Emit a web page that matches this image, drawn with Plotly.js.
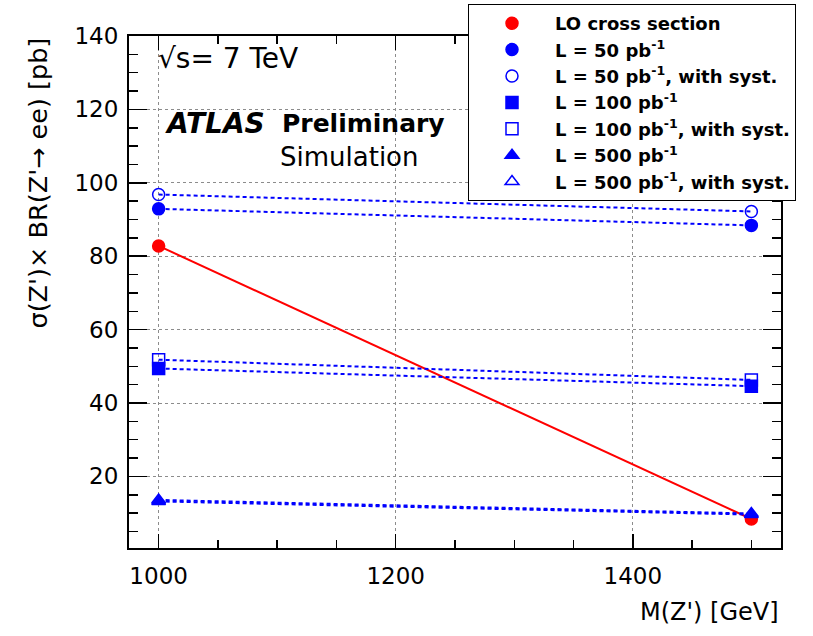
<!DOCTYPE html>
<html>
<head>
<meta charset="utf-8">
<script src="https://cdn.plot.ly/plotly-3.0.1.min.js"></script>
<style>
  html, body { margin: 0; padding: 0; background: #fff; }
  #chart { width: 813px; height: 636px; }
</style>
</head>
<body>
<div id="chart"></div>
<script>
// Z' mass points [GeV]
const massPoints = [1000, 1500];

// LO cross section times branching ratio [pb]
const loCrossSection = [82.8, 8.4];

// Required sigma x BR for each integrated luminosity [pb]
const lumi50 = [92.9, 88.4];
const lumi50Syst = [96.8, 92.2];
const lumi100 = [49.4, 44.6];
const lumi100Syst = [51.8, 46.3];
const lumi500 = [13.2, 9.6];
const lumi500Syst = [13.6, 9.9];

const seriesNames = [
  'LO cross section',
  'L = 50 pb<sup>-1</sup>',
  'L = 50 pb<sup>-1</sup>, with syst.',
  'L = 100 pb<sup>-1</sup>',
  'L = 100 pb<sup>-1</sup>, with syst.',
  'L = 500 pb<sup>-1</sup>',
  'L = 500 pb<sup>-1</sup>, with syst.'
];

const RED = '#ff0000';
const BLUE = '#0000ff';
const FONT = 'DejaVu Sans, Verdana, sans-serif';

const series = [
  { y: loCrossSection, color: RED,  symbol: 'circle',           dash: 'solid' },
  { y: lumi50,         color: BLUE, symbol: 'circle',           dash: '4px,3px' },
  { y: lumi50Syst,     color: BLUE, symbol: 'circle-open',      dash: '4px,3px' },
  { y: lumi100,        color: BLUE, symbol: 'square',           dash: '4px,3px' },
  { y: lumi100Syst,    color: BLUE, symbol: 'square-open',      dash: '4px,3px' },
  { y: lumi500,        color: BLUE, symbol: 'triangle-up',      dash: '4px,3px' },
  { y: lumi500Syst,    color: BLUE, symbol: 'triangle-up-open', dash: '4px,3px' }
];

const traces = [];
// connecting lines first, so the markers sit on top
series.forEach((s) => {
  traces.push({
    x: massPoints, y: s.y, mode: 'lines', showlegend: false, hoverinfo: 'skip',
    line: { color: s.color, width: 2, dash: s.dash }
  });
});
series.forEach((s, i) => {
  traces.push({
    x: massPoints, y: s.y, mode: 'markers', name: seriesNames[i],
    marker: { color: s.color, symbol: s.symbol, size: 12, line: { color: s.color, width: 1.5 } }
  });
});

const axisCommon = {
  showline: true, linecolor: '#000', linewidth: 2, mirror: 'ticks',
  ticks: 'inside', tickwidth: 1.5, tickcolor: '#000',
  showgrid: true, gridcolor: '#8c8c8c', gridwidth: 1, griddash: 'dot',
  zeroline: false,
  tickfont: { family: FONT, size: 23, color: '#000' }
};

const layout = {
  width: 813, height: 636,
  paper_bgcolor: '#fff', plot_bgcolor: '#fff',
  margin: { l: 129, r: 32, t: 36, b: 88, autoexpand: false },
  showlegend: true,
  xaxis: Object.assign({}, axisCommon, {
    range: [975, 1525], tickvals: [1000, 1200, 1400], ticklen: 14,
    minor: { dtick: 50, tick0: 1000, ticklen: 8, tickcolor: '#000', ticks: 'inside', showgrid: false },
    ticklabelstandoff: 6
  }),
  yaxis: Object.assign({}, axisCommon, {
    range: [0.5, 140], tickvals: [20, 40, 60, 80, 100, 120, 140], ticklen: 18,
    minor: { dtick: 5, tick0: 0, ticklen: 9, tickcolor: '#000', ticks: 'inside', showgrid: false },
    ticklabelstandoff: 4
  }),
  legend: {
    xref: 'container', yref: 'container',
    x: 468 / 813, y: 1 - 4 / 636, xanchor: 'left', yanchor: 'top',
    bgcolor: '#fff', bordercolor: '#000', borderwidth: 1,
    font: { family: FONT, size: 18, color: '#000', weight: 'bold' },
    itemwidth: 76, tracegroupgap: 0
  },
  annotations: [
    {
      text: '√s= 7 TeV', xref: 'paper', yref: 'paper',
      x: (156 - 129) / 652, y: 1 - (58 - 36) / 512, xanchor: 'left', yanchor: 'middle',
      showarrow: false, font: { family: FONT, size: 28, color: '#000' }
    },
    {
      text: '<b><i>ATLAS</i></b>', xref: 'paper', yref: 'paper',
      x: (163 - 129) / 652, y: 1 - (123 - 36) / 512, xanchor: 'left', yanchor: 'middle',
      showarrow: false, font: { family: FONT, size: 28, color: '#000' }
    },
    {
      text: '<b>Preliminary</b>', xref: 'paper', yref: 'paper',
      x: (280 - 129) / 652, y: 1 - (123 - 36) / 512, xanchor: 'left', yanchor: 'middle',
      showarrow: false, font: { family: FONT, size: 25, color: '#000' }
    },
    {
      text: 'Simulation', xref: 'paper', yref: 'paper',
      x: (278 - 129) / 652, y: 1 - (157 - 36) / 512, xanchor: 'left', yanchor: 'middle',
      showarrow: false, font: { family: FONT, size: 26, color: '#000' }
    },
    {
      text: "σ(Z')× BR(Z'→ ee) [pb]", xref: 'paper', yref: 'paper',
      x: -(129 - 37) / 652, y: 1, xanchor: 'center', yanchor: 'top',
      textangle: -90, showarrow: false, font: { family: FONT, size: 25.5, color: '#000' }
    },
    {
      text: "M(Z') [GeV]", xref: 'paper', yref: 'paper',
      x: 1, y: -(612 - 548) / 512, xanchor: 'right', yanchor: 'middle',
      showarrow: false, font: { family: FONT, size: 24, color: '#000' }
    }
  ]
};

Plotly.newPlot('chart', traces, layout, { displayModeBar: false, staticPlot: true });
</script>
</body>
</html>
